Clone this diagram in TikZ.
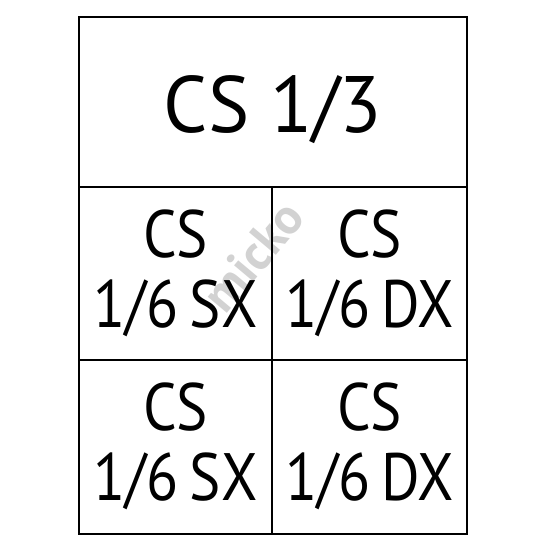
\documentclass[tikz,border=0pt]{standalone}
\usepackage{fontspec}
\setmainfont{PT Sans}
\newfontfamily\narrowfont[FakeStretch=0.88]{PT Sans}
\newfontfamily\bigfont[FakeStretch=0.97]{PT Sans}
\begin{document}
\begin{tikzpicture}[x=1pt,y=1pt,
  frame/.style={line width=2.8pt},
  inner/.style={line width=2pt},
  big/.style={font=\bigfont\fontsize{80}{82}\selectfont, inner sep=0pt},
  small/.style={font=\narrowfont\fontsize{67}{70}\selectfont, align=center, inner sep=0pt},
  wmark/.style={text=gray!35, rotate=50, font=\bfseries\fontsize{50}{50}\selectfont, inner sep=0pt}]
\useasboundingbox (0,0) rectangle (550,550);
\fill[white] (0,0) rectangle (550,550);
% watermark
\node[wmark] (wm) at (253,294) {micko};
% grid
\draw[inner] (79,363) -- (467,363);
\draw[inner] (272,363) -- (272,16);
\draw[inner] (79,190) -- (467,190);
\draw[frame] (79,16) rectangle (467,533);
% texts
\node[big] (top) at (273,440) {CS 1/3};
\node[small] (a) at (175.5,277) {CS\\1/6\,SX};
\node[small] (b) at (369.5,277) {CS\\1/6\,DX};
\node[small] (c) at (175.5,104) {CS\\1/6\,SX};
\node[small] (d) at (369.5,104) {CS\\1/6\,DX};
\end{tikzpicture}
\end{document}
